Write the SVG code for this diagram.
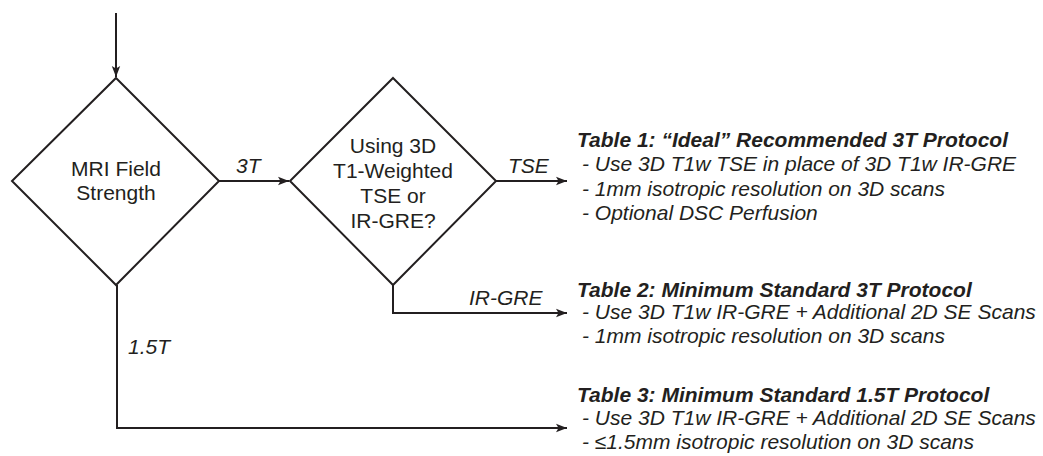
<svg xmlns="http://www.w3.org/2000/svg" width="1043" height="456" viewBox="0 0 1043 456">
<defs>
<marker id="arr" markerUnits="userSpaceOnUse" markerWidth="12" markerHeight="10" refX="11" refY="5" orient="auto">
<path d="M0,0.8 L11,5 L0,9.2 L2.5,5 z" fill="#231f20"/>
</marker>
<style>
.shape{fill:none;stroke:#231f20;stroke-width:2}
.conn{fill:none;stroke:#231f20;stroke-width:2}
.t{font-family:"Liberation Sans",Arial,sans-serif;font-size:21px;fill:#231f20}
.c{text-anchor:middle}
.i{font-style:italic}
.b{font-weight:bold;font-style:italic}
</style>
</defs>
<rect width="1043" height="456" fill="#ffffff"/>
<g id="connectors">
<path class="conn" d="M116,13 L116,77" marker-end="url(#arr)"/>
<path class="conn" d="M219,181 L289,181" marker-end="url(#arr)"/>
<path class="conn" d="M496,181 L567,181" marker-end="url(#arr)"/>
<path class="conn" d="M393,285 L393,313 L567,313" marker-end="url(#arr)"/>
<path class="conn" d="M117,285 L117,428 L567,428" marker-end="url(#arr)"/>
<text class="t i" x="236" y="173">3T</text>
<text class="t i" x="508" y="173">TSE</text>
<text class="t i" x="469" y="305">IR-GRE</text>
<text class="t i" x="128" y="354">1.5T</text>
</g>
<g id="node-field">
<polygon class="shape" points="116,78 219,181 116,285 12,181"/>
<text class="t c" x="116" y="176">MRI Field</text>
<text class="t c" x="116" y="200">Strength</text>
</g>
<g id="node-sequence">
<polygon class="shape" points="393,78 496,181 393,285 290,181"/>
<text class="t c" x="393" y="153">Using 3D</text>
<text class="t c" x="393" y="178">T1-Weighted</text>
<text class="t c" x="393" y="203">TSE or</text>
<text class="t c" x="393" y="228">IR-GRE?</text>
</g>
<g id="table1">
<text class="t b" x="577" y="147">Table 1: “Ideal” Recommended 3T Protocol</text>
<text class="t i" x="582" y="171">- Use 3D T1w TSE in place of 3D T1w IR-GRE</text>
<text class="t i" x="582" y="196">- 1mm isotropic resolution on 3D scans</text>
<text class="t i" x="582" y="220">- Optional DSC Perfusion</text>
</g>
<g id="table2">
<text class="t b" x="577" y="297">Table 2: Minimum Standard 3T Protocol</text>
<text class="t i" x="582" y="319">- Use 3D T1w IR-GRE + Additional 2D SE Scans</text>
<text class="t i" x="582" y="343">- 1mm isotropic resolution on 3D scans</text>
</g>
<g id="table3">
<text class="t b" x="577" y="402">Table 3: Minimum Standard 1.5T Protocol</text>
<text class="t i" x="582" y="425">- Use 3D T1w IR-GRE + Additional 2D SE Scans</text>
<text class="t i" x="582" y="449">- ≤1.5mm isotropic resolution on 3D scans</text>
</g>
</svg>
